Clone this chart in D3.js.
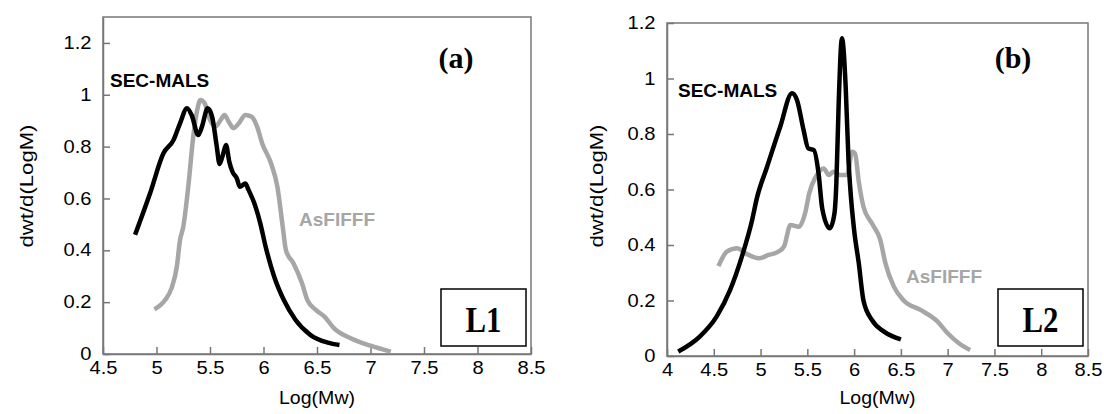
<!DOCTYPE html>
<html>
<head>
<meta charset="utf-8">
<script src="https://cdn.jsdelivr.net/npm/d3@7"></script>
<style>
  body { margin: 0; background: #fff; }
  svg { display: block; }
  .tick text { font-family: "Liberation Sans", Arial, sans-serif; font-size: 17.5px; fill: #000; }
  .domain, .tick line { stroke: #777; stroke-width: 1.5; }
</style>
</head>
<body>
<div id="chart"></div>
<script>
// panel (a) - L1
const secA = [
  [4.80, 0.46], [4.94, 0.62], [5.065, 0.774], [5.16, 0.826], [5.22, 0.89], [5.285, 0.948],
  [5.33, 0.92], [5.39, 0.845], [5.425, 0.877], [5.478, 0.948], [5.52, 0.915], [5.56, 0.81],
  [5.59, 0.733], [5.62, 0.768], [5.65, 0.806], [5.68, 0.742], [5.71, 0.703], [5.75, 0.678],
  [5.78, 0.645], [5.83, 0.658], [5.86, 0.633], [5.92, 0.575], [5.97, 0.504], [6.02, 0.414],
  [6.10, 0.298], [6.19, 0.208], [6.30, 0.131], [6.44, 0.073], [6.60, 0.044], [6.71, 0.035]
];
const asfA = [
  [4.98, 0.172], [5.08, 0.208], [5.14, 0.253], [5.19, 0.337], [5.22, 0.44], [5.25, 0.49],
  [5.30, 0.658], [5.34, 0.826], [5.38, 0.94], [5.41, 0.98], [5.45, 0.967], [5.50, 0.903],
  [5.55, 0.877], [5.60, 0.903], [5.635, 0.922], [5.675, 0.896], [5.72, 0.871], [5.77, 0.89],
  [5.83, 0.922], [5.89, 0.915], [5.94, 0.877], [5.99, 0.81], [6.07, 0.736], [6.13, 0.645],
  [6.18, 0.49], [6.21, 0.40], [6.28, 0.35], [6.36, 0.273], [6.41, 0.208], [6.49, 0.17],
  [6.57, 0.144], [6.66, 0.099], [6.82, 0.06], [7.0, 0.032], [7.19, 0.009]
];
// panel (b) - L2
const secB = [
  [4.12, 0.016], [4.35, 0.07], [4.53, 0.142], [4.675, 0.238], [4.80, 0.358], [4.91, 0.49],
  [4.96, 0.568], [5.07, 0.682], [5.21, 0.826], [5.336, 0.947], [5.39, 0.922], [5.46, 0.814],
  [5.51, 0.748], [5.57, 0.742], [5.62, 0.658], [5.66, 0.53], [5.74, 0.46], [5.79, 0.514],
  [5.81, 0.62], [5.835, 0.91], [5.87, 1.145], [5.91, 0.97], [5.94, 0.706], [5.96, 0.6],
  [6.0, 0.454], [6.05, 0.334], [6.10, 0.20], [6.19, 0.13], [6.32, 0.088], [6.50, 0.06]
];
const asfB = [
  [4.55, 0.324], [4.64, 0.376], [4.75, 0.388], [4.85, 0.368], [4.98, 0.352], [5.085, 0.364],
  [5.19, 0.376], [5.25, 0.394], [5.32, 0.472], [5.41, 0.466], [5.48, 0.52], [5.52, 0.586],
  [5.59, 0.646], [5.64, 0.67], [5.675, 0.676], [5.73, 0.652], [5.78, 0.664], [5.85, 0.652],
  [5.925, 0.652], [5.98, 0.736], [6.01, 0.73], [6.05, 0.628], [6.10, 0.538], [6.19, 0.478],
  [6.28, 0.418], [6.335, 0.334], [6.425, 0.25], [6.53, 0.20], [6.71, 0.166], [6.89, 0.125],
  [7.0, 0.082], [7.12, 0.046], [7.24, 0.022]
];

const xTicksA = [4.5, 5, 5.5, 6, 6.5, 7, 7.5, 8, 8.5];
const xTicksB = [4, 4.5, 5, 5.5, 6, 6.5, 7, 7.5, 8, 8.5];
const yTicksA = [0, 0.2, 0.4, 0.6, 0.8, 1, 1.2];
const yTicksB = [0, 0.2, 0.4, 0.6, 0.8, 1, 1.2];

const panels = [
  { left: 103, top: 17, width: 428, height: 337, xDomain: [4.5, 8.5], yDomain: [0, 1.3],
    xTicks: xTicksA, yTicks: yTicksA, sec: secA, asf: asfA, tag: '(a)', box: 'L1',
    titleX: 26, secLabel: [110, 87], asfLabel: [299, 226] },
  { left: 667, top: 23, width: 421, height: 333, xDomain: [4, 8.5], yDomain: [0, 1.2],
    xTicks: xTicksB, yTicks: yTicksB, sec: secB, asf: asfB, tag: '(b)', box: 'L2',
    titleX: 596, secLabel: [678, 97], asfLabel: [906, 283] }
];

const svg = d3.select('#chart').append('svg')
    .attr('width', 1104)
    .attr('height', 414);

const fmt = d => d3.format('~g')(d);

panels.forEach(p => {
  const x = d3.scaleLinear().domain(p.xDomain).range([0, p.width]);
  const y = d3.scaleLinear().domain(p.yDomain).range([p.height, 0]);

  const g = svg.append('g').attr('transform', `translate(${p.left},${p.top})`);

  // frame
  g.append('rect')
      .attr('width', p.width).attr('height', p.height)
      .attr('fill', 'none').attr('stroke', '#777').attr('stroke-width', 1.5);

  g.append('g')
      .attr('class', 'x-axis')
      .attr('transform', `translate(0,${p.height})`)
      .call(d3.axisBottom(x).tickValues(p.xTicks).tickFormat(fmt)
        .tickSizeInner(-7).tickSizeOuter(0).tickPadding(8))
      .selectAll('.tick text').attr('transform', 'scale(1.15,1)');

  g.append('g')
      .attr('class', 'y-axis')
      .call(d3.axisLeft(y).tickValues(p.yTicks).tickFormat(fmt)
        .tickSizeInner(-7).tickSizeOuter(0).tickPadding(10))
      .selectAll('.tick text').attr('transform', 'scale(1.15,1)');

  const line = d3.line()
      .x(d => x(d[0]))
      .y(d => y(d[1]))
      .curve(d3.curveMonotoneX);

  g.append('path').datum(p.asf)
      .attr('d', line)
      .attr('fill', 'none').attr('stroke', '#a6a6a6').attr('stroke-width', 4.5)
      .attr('stroke-linejoin', 'round');

  g.append('path').datum(p.sec)
      .attr('d', line)
      .attr('fill', 'none').attr('stroke', '#000').attr('stroke-width', 4.5)
      .attr('stroke-linejoin', 'round');

  // axis titles
  svg.append('text')
      .attr('x', p.left + p.width / 2).attr('y', 404)
      .attr('text-anchor', 'middle')
      .attr('font-family', 'Liberation Sans, Arial, sans-serif').attr('font-size', 19)
      .attr('textLength', 76).attr('lengthAdjust', 'spacingAndGlyphs')
      .text('Log(Mw)');

  svg.append('text')
      .attr('transform', `translate(${p.titleX + 7},186) rotate(-90)`)
      .attr('text-anchor', 'middle')
      .attr('font-family', 'Liberation Sans, Arial, sans-serif').attr('font-size', 18.5)
      .attr('textLength', 123).attr('lengthAdjust', 'spacingAndGlyphs')
      .text('dwt/d(LogM)');

  // series labels
  svg.append('text')
      .attr('x', p.secLabel[0]).attr('y', p.secLabel[1])
      .attr('font-family', 'Liberation Sans, Arial, sans-serif').attr('font-size', 19)
      .attr('font-weight', 'bold').attr('fill', '#000')
      .text('SEC-MALS');

  svg.append('text')
      .attr('x', p.asfLabel[0]).attr('y', p.asfLabel[1])
      .attr('font-family', 'Liberation Sans, Arial, sans-serif').attr('font-size', 19)
      .attr('font-weight', 'bold').attr('fill', '#a6a6a6')
      .text('AsFIFFF');

  // panel tag
  g.append('text')
      .attr('x', p.width - 75).attr('y', 68 - p.top)
      .attr('text-anchor', 'middle')
      .attr('font-family', 'Liberation Serif, Times New Roman, serif').attr('font-size', 30)
      .attr('font-weight', 'bold')
      .text(p.tag);

  // sample box
  const bx = p.width - 90, by = 289 - p.top;
  g.append('rect')
      .attr('x', bx).attr('y', by).attr('width', 85).attr('height', 57)
      .attr('fill', '#fff').attr('stroke', '#000').attr('stroke-width', 1.5);
  g.append('text')
      .attr('x', bx + 42.5).attr('y', by + 43)
      .attr('text-anchor', 'middle')
      .attr('font-family', 'Liberation Serif, Times New Roman, serif').attr('font-size', 36)
      .attr('font-weight', 'bold')
      .attr('textLength', 36).attr('lengthAdjust', 'spacingAndGlyphs')
      .text(p.box);
});
</script>
</body>
</html>
